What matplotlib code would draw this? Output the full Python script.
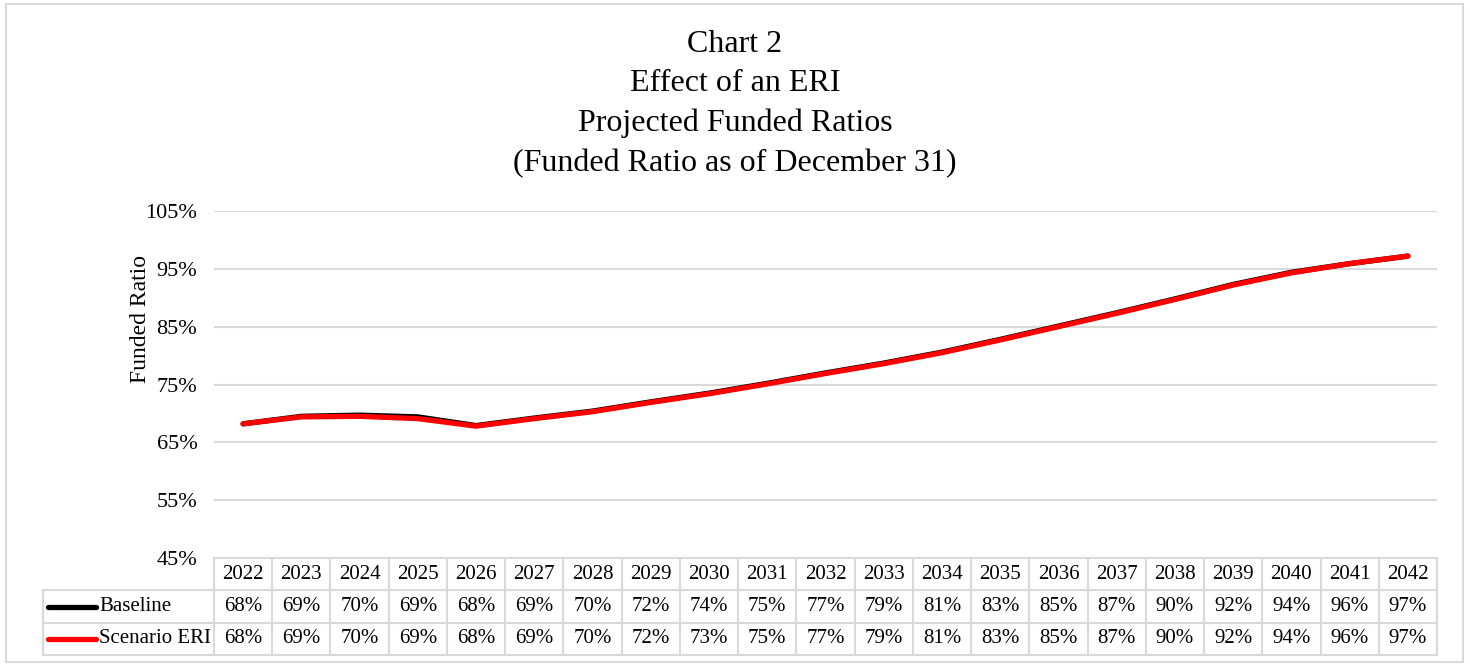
import matplotlib.pyplot as plt
from matplotlib.lines import Line2D
from matplotlib.patches import Rectangle

plt.rcParams['font.family'] = ['Liberation Serif', 'DejaVu Serif']

# data
years = [str(y) for y in range(2022, 2043)]
baseline = [68.2, 69.5, 69.7, 69.4, 67.9, 69.2, 70.4, 72.0, 73.5, 75.2, 77.0,
            78.7, 80.6, 82.8, 85.1, 87.4, 89.8, 92.3, 94.4, 95.9, 97.2]
scenario = [68.2, 69.4, 69.5, 69.1, 67.8, 69.1, 70.3, 71.9, 73.4, 75.1, 76.9,
            78.6, 80.5, 82.7, 85.0, 87.3, 89.7, 92.2, 94.3, 95.9, 97.2]
# values as printed in the data table
baseline_lbl = ['68%', '69%', '70%', '69%', '68%', '69%', '70%', '72%', '74%', '75%', '77%',
                '79%', '81%', '83%', '85%', '87%', '90%', '92%', '94%', '96%', '97%']
scenario_lbl = ['68%', '69%', '70%', '69%', '68%', '69%', '70%', '72%', '73%', '75%', '77%',
                '79%', '81%', '83%', '85%', '87%', '90%', '92%', '94%', '96%', '97%']
series_names = ['Baseline', 'Scenario ERI']
series_colors = ['black', '#ff0000']
yticks = [45, 55, 65, 75, 85, 95, 105]

grid_c = '#d9d9d9'
fs = 16
fs_tab = 15
W, H = 1470, 666
fig = plt.figure(figsize=(W / 100, H / 100), dpi=100)

# outer chart border
fig.patches.append(Rectangle((6 / W, 4 / H), 1457 / W, 658 / H, transform=fig.transFigure,
                             fill=False, edgecolor=grid_c, linewidth=1.5))

fig.text(0.5, 1 - 104 / H,
         'Chart 2\nEffect of an ERI\nProjected Funded Ratios\n(Funded Ratio as of December 31)',
         ha='center', va='center', fontsize=23, linespacing=1.48)

# main plot
left, right = 214 / W, 1437 / W
top, bottom = 1 - 211 / H, 1 - 558 / H
ax = fig.add_axes([left, bottom, right - left, top - bottom])
x = list(range(len(years)))
ax.plot(x, baseline, color=series_colors[0], lw=3.8, solid_capstyle='round', solid_joinstyle='round')
ax.plot(x, scenario, color=series_colors[1], lw=3.8, solid_capstyle='round', solid_joinstyle='round')
ax.set_xlim(-0.5, len(years) - 0.5)
ax.set_ylim(45, 105)
ax.set_yticks(yticks)
ax.set_yticklabels([f'{v}%' for v in yticks], fontsize=fs)
ax.set_xticks([])
ax.tick_params(axis='y', length=0, pad=12)
ax.grid(axis='y', color=grid_c, lw=1.5)
ax.set_axisbelow(True)
for s in ax.spines.values():
    s.set_visible(False)
fig.text(140 / W, 1 - 319 / H, 'Funded Ratio', rotation=90, ha='center', va='center', fontsize=fs + 1)

# data table below the plot
tb_top, tb_bot = 1 - 558 / H, 1 - 655 / H
tx = fig.add_axes([left, tb_bot, right - left, tb_top - tb_bot])
tx.set_xlim(-0.5, len(years) - 0.5)
tx.set_ylim(0, 3)
tx.axis('off')
n = len(years)
col_px = (1437 - 214) / n
lab_left = -0.5 - (214 - 43) / col_px
lk = dict(color=grid_c, lw=1.5, clip_on=False)
# horizontal lines
tx.plot([-0.5, n - 0.5], [3, 3], **lk)
for yy in [2, 1, 0]:
    tx.plot([lab_left, n - 0.5], [yy, yy], **lk)
# vertical lines
for i in range(n + 1):
    tx.plot([i - 0.5, i - 0.5], [0, 3], **lk)
tx.plot([lab_left, lab_left], [0, 2], **lk)

for i in range(n):
    tx.text(i, 2.5, years[i], ha='center', va='center', fontsize=fs_tab)
    tx.text(i, 1.5, baseline_lbl[i], ha='center', va='center', fontsize=fs_tab)
    tx.text(i, 0.5, scenario_lbl[i], ha='center', va='center', fontsize=fs_tab)

key_w = 48 / col_px
for r, (name, c) in enumerate(zip(series_names, series_colors)):
    yy = 1.5 - r
    tx.add_line(Line2D([lab_left + 5 / col_px, lab_left + 5 / col_px + key_w], [yy, yy], color=c, lw=3.8,
                       solid_capstyle='round', clip_on=False))
    tx.text(lab_left + 56 / col_px, yy, name, ha='left', va='center', fontsize=fs_tab)

fig.savefig('out.png', dpi=100)
